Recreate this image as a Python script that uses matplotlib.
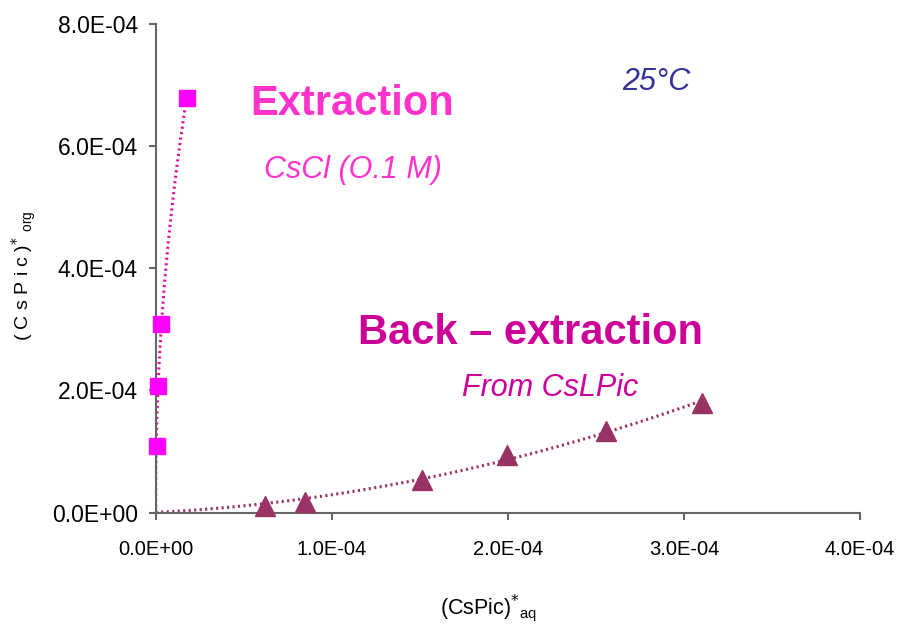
import numpy as np
import matplotlib
matplotlib.use("Agg")
import matplotlib.pyplot as plt

# Data
ext_x = [0.6e-6, 1.5e-6, 3.0e-6, 1.76e-5]
ext_y = [1.09e-4, 2.08e-4, 3.09e-4, 6.79e-4]
back_x = [0.621e-4, 0.848e-4, 1.515e-4, 1.994e-4, 2.559e-4, 3.102e-4]
back_y = [0.10e-4, 0.17e-4, 0.54e-4, 0.94e-4, 1.34e-4, 1.79e-4]
xticks = [0, 1e-4, 2e-4, 3e-4, 4e-4]
xtick_labels = ["0.0E+00", "1.0E-04", "2.0E-04", "3.0E-04", "4.0E-04"]
yticks = [0, 2e-4, 4e-4, 6e-4, 8e-4]
ytick_labels = ["0.0E+00", "2.0E-04", "4.0E-04", "6.0E-04", "8.0E-04"]

plt.rcParams['font.family'] = ['Liberation Sans', 'DejaVu Sans']

def fit_origin_quad(x, y):
    x = np.asarray(x); y = np.asarray(y)
    A = np.vstack([x, x**2]).T
    coef, *_ = np.linalg.lstsq(A, y, rcond=None)
    return coef

fig = plt.figure(figsize=(9.01, 6.27), dpi=100)
ax = fig.add_axes([0.1728, 0.1826, 0.9545 - 0.1728, 0.9617 - 0.1826])

# trend lines
c1 = fit_origin_quad(ext_y, ext_x)  # x as a function of y
yy = np.linspace(0, max(ext_y), 200)
ax.plot(c1[0]*yy + c1[1]*yy**2, yy, color='#E0109C', lw=2.2, ls=(0, (0.7, 1.1)), zorder=2)
c2 = fit_origin_quad(back_x, back_y)
xx2 = np.linspace(0, max(back_x), 200)
ax.plot(xx2, c2[0]*xx2 + c2[1]*xx2**2, color='#993366', lw=2.2, ls=(0, (0.7, 1.1)), zorder=2)

ax.plot(ext_x, ext_y, ls='none', marker='s', ms=12, color='#FF00FF', zorder=3, clip_on=False)
ax.plot(back_x, back_y, ls='none', marker='^', ms=14, color='#993366', zorder=3, clip_on=False)

ax.set_xlim(0, 4e-4)
ax.set_ylim(0, 8e-4)
ax.set_xticks(xticks)
ax.set_xticklabels(xtick_labels, fontsize=14.5)
ax.set_yticks(yticks)
ax.set_yticklabels(ytick_labels, fontsize=16.5)
for s in ['top', 'right']:
    ax.spines[s].set_visible(False)
for s in ['left', 'bottom']:
    ax.spines[s].set_color('#666666')
    ax.spines[s].set_linewidth(1.5)
ax.tick_params(axis='both', direction='out', length=5, width=1.5, color='#666666', labelcolor='black')
ax.tick_params(axis='x', pad=15)
ax.tick_params(axis='y', pad=8)

fig.text(488/901, 1 - 608/627, r'(CsPic)$^{*}$$_{\mathregular{aq}}$', ha='center', va='center',
         fontsize=15.5)
fig.text(24/901, 1 - 276/627, '( C s P i c )$^{*}$ $_{\\mathregular{org}}$', ha='center', va='center',
         fontsize=14, rotation=90)

ax.text(352/901, 1 - 104/627, 'Extraction', transform=fig.transFigure, ha='center', va='center',
        fontsize=30, fontweight='bold', color='#FF33CC')
ax.text(353/901, 1 - 170/627, 'CsCl (O.1 M)', transform=fig.transFigure, ha='center', va='center',
        fontsize=22, style='italic', color='#FF33CC')
ax.text(531/901, 1 - 333/627, 'Back \u2013 extraction', transform=fig.transFigure, ha='center', va='center',
        fontsize=30, fontweight='bold', color='#CC0099')
ax.text(550/901, 1 - 388/627, 'From CsLPic', transform=fig.transFigure, ha='center', va='center',
        fontsize=22, style='italic', color='#CC0099')
ax.text(656/901, 1 - 82/627, '25\u00b0C', transform=fig.transFigure, ha='center', va='center',
        fontsize=22, style='italic', color='#333399')

fig.savefig('out.png', dpi=100)
